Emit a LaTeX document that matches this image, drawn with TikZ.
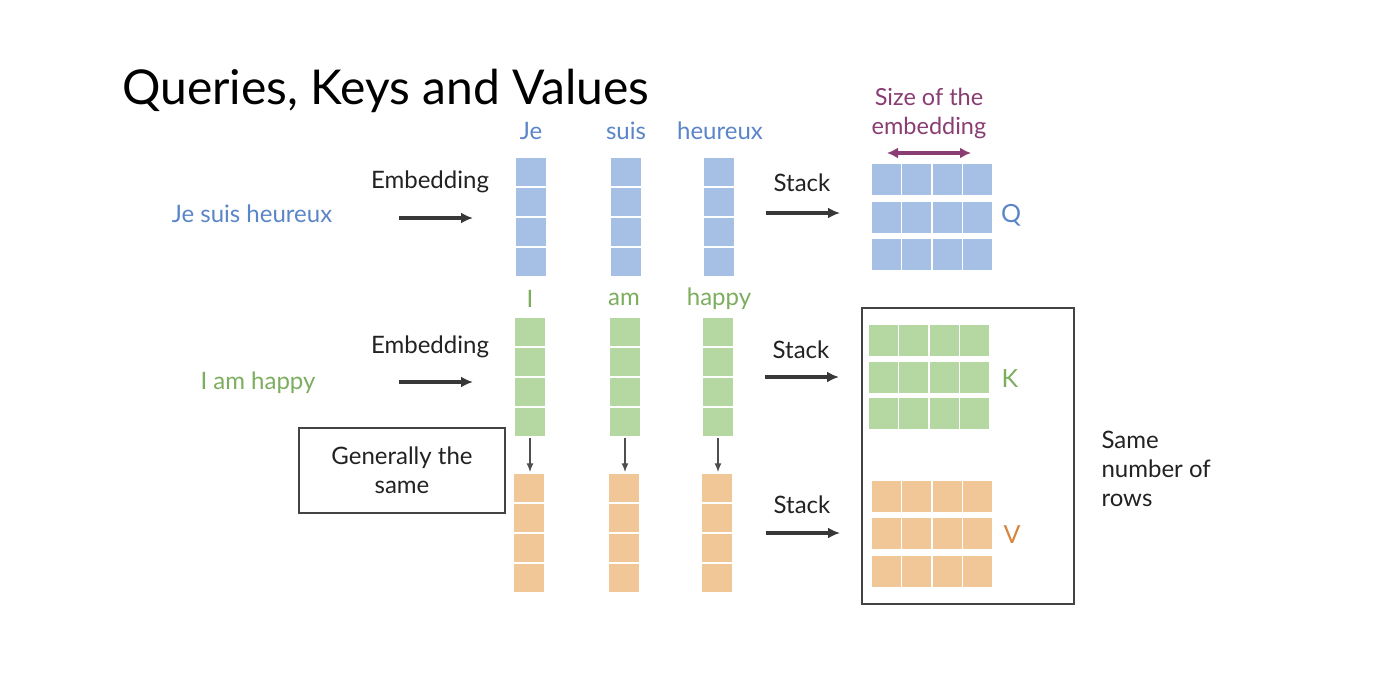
\documentclass[tikz,border=0pt]{standalone}
\usepackage{fontspec}
\setmainfont{Lato}
\usetikzlibrary{arrows.meta}
\definecolor{qfill}{HTML}{A6BFE5}
\definecolor{qtext}{HTML}{5A85C8}
\definecolor{kfill}{HTML}{B5D8A3}
\definecolor{ktext}{HTML}{7DAE5F}
\definecolor{vfill}{HTML}{F2C798}
\definecolor{vtext}{HTML}{D5873F}
\definecolor{purp}{HTML}{8A3D72}
\definecolor{ink}{HTML}{222222}
\tikzset{
  colcell/.style={draw=white, line width=1.5pt, minimum width=31.5pt, minimum height=30pt, inner sep=0pt},
  matcell/.style={draw=white, line width=1.5pt, minimum width=30.5pt, minimum height=32.5pt, inner sep=0pt},
  lbl/.style={font=\fontsize{24}{29}\selectfont, text=ink},
  word/.style={font=\fontsize{24}{29}\selectfont},
  bigarrow/.style={draw=ink!90, line width=3.3pt, -{Latex[length=12pt,width=11pt]}},
  smallarrow/.style={draw=ink!80, line width=1.4pt, -{Latex[length=9pt,width=7pt]}},
  boxed/.style={draw=ink!85, line width=1.8pt, inner sep=0pt},
}
\begin{document}
\begin{tikzpicture}[x=1pt,y=-1pt]
\useasboundingbox[fill=white] (0,0) rectangle (1378,672);
\node[anchor=base west, font=\fontsize{48}{52}\selectfont, text=black, inner sep=0pt] (title) at (122,104) {Queries, Keys and Values};

% word labels
\node[word, text=qtext] (wJe) at (531,131) {Je};
\node[word, text=qtext] (wsuis) at (626,131) {suis};
\node[word, text=qtext] (wheur) at (720,131) {heureux};
\node[word, text=ktext] (wI) at (530,299) {I};
\node[word, text=ktext] (wam) at (624,299) {am};
\node[word, text=ktext] (whap) at (719,299) {happy};

% columns
\foreach \c/\x in {1/531,2/626,3/719}{
  \foreach \r in {1,...,4}{
    \node[colcell, fill=qfill] (q\c\r) at (\x,{157+30*\r-15}) {};
    \node[colcell, fill=kfill] (k\c\r) at ({\x-1},{317+30*\r-15}) {};
    \node[colcell, fill=vfill] (v\c\r) at ({\x-2},{473+30*\r-15}) {};
  }
}
\foreach \c in {1,2,3}{
  \draw[smallarrow] (k\c4.south) -- (k\c4.south |- v\c1.north);
}

% sentences and embedding arrows
\node[word, text=qtext] (sQ) at (252,214) {Je suis heureux};
\node[word, text=ktext] (sK) at (258,383) {I am happy};
\node[lbl] (eQ) at (430,182) {Embedding};
\node[lbl] (eK) at (430,347) {Embedding};
\coordinate (eQa) at (399,218); \coordinate (eQb) at (473,218);
\coordinate (eKa) at (399,382); \coordinate (eKb) at (473,382);
\draw[bigarrow] (eQa) -- (eQb);
\draw[bigarrow] (eKa) -- (eKb);

% stack arrows
\node[lbl] (stQ) at (802,183) {Stack};
\node[lbl] (stK) at (801,350) {Stack};
\node[lbl] (stV) at (802,505) {Stack};
\coordinate (sQa) at (766,213); \coordinate (sQb) at (840,213);
\coordinate (sKa) at (765,377); \coordinate (sKb) at (839,377);
\coordinate (sVa) at (766,533); \coordinate (sVb) at (840,533);
\draw[bigarrow] (sQa) -- (sQb);
\draw[bigarrow] (sKa) -- (sKb);
\draw[bigarrow] (sVa) -- (sVb);

% matrices
\foreach \j in {1,...,4}{
  \foreach \i/\yq/\yk/\yv in {1/179/340.5/496.5, 2/217/377/533, 3/254/413.5/571}{
    \node[matcell, fill=qfill] (Q\i\j) at ({871+30.5*\j-15.25},\yq) {};
    \node[matcell, fill=kfill] (K\i\j) at ({868+30.5*\j-15.25},\yk) {};
    \node[matcell, fill=vfill] (V\i\j) at ({871+30.5*\j-15.25},\yv) {};
  }
}
\node[font=\fontsize{25}{29}\selectfont, text=qtext] (Qlbl) at (1011,215) {Q};
\node[font=\fontsize{25}{29}\selectfont, text=ktext] (Klbl) at (1010,379) {K};
\node[font=\fontsize{25}{29}\selectfont, text=vtext] (Vlbl) at (1012,535) {V};

% size of embedding
\node[text=purp, align=center, font=\fontsize{23.5}{29}\selectfont] (size) at (929,113) {Size of the\\embedding};
\coordinate (dA) at (887,153); \coordinate (dB) at (971,153);
\draw[draw=purp, line width=3.2pt, {Latex[length=11pt,width=11pt]}-{Latex[length=11pt,width=11pt]}] (dA) -- (dB);

% boxes
\node[boxed, minimum width=212pt, minimum height=296pt] (kvbox) at (968,456) {};
\node[boxed, minimum width=206pt, minimum height=85pt] (gbox) at (402,470.5) {};
\node[lbl, align=center, font=\fontsize{24}{29}\selectfont] (gtext) at (402,470) {Generally the\\same};
\node[lbl, align=left, anchor=west, font=\fontsize{24}{29}\selectfont] (same) at (1098,469) {Same\\number of\\rows};
\end{tikzpicture}
\end{document}
